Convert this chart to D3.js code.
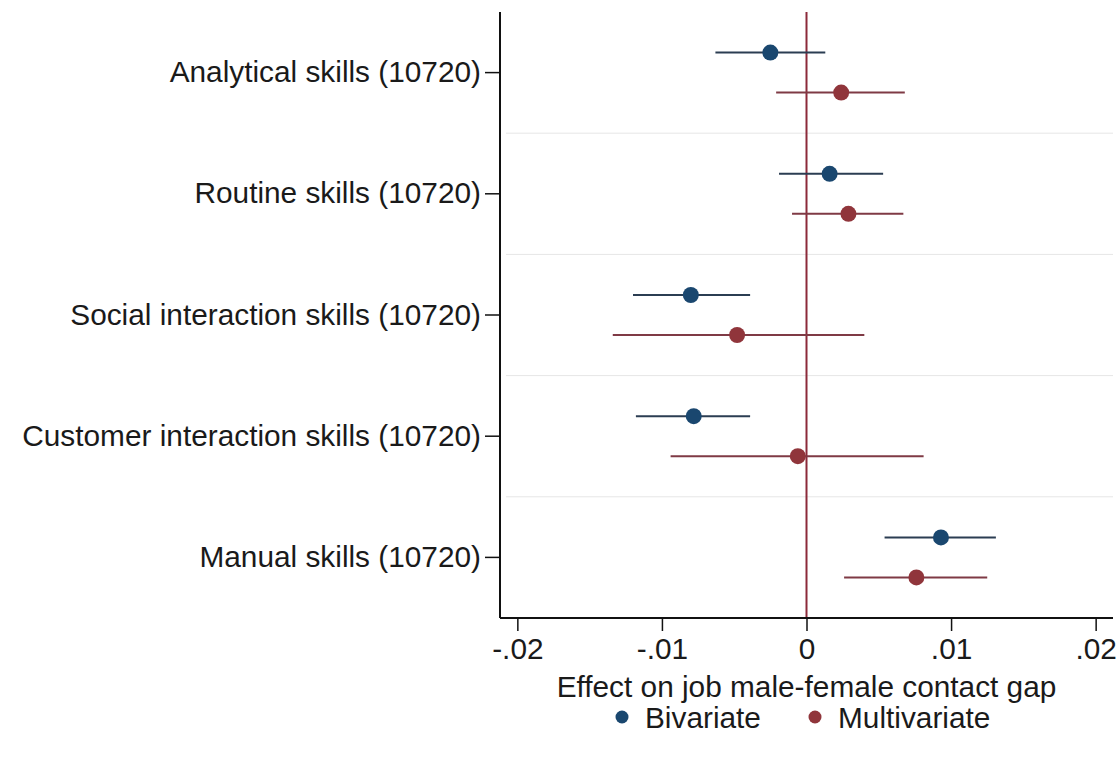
<!DOCTYPE html>
<html>
<head>
<meta charset="utf-8">
<script src="https://cdn.jsdelivr.net/npm/d3@7"></script>
<style>
  html, body { margin: 0; padding: 0; background: #ffffff; }
  svg { display: block; }
  text { font-family: "Liberation Sans", Arial, sans-serif; fill: #1a1a1a; }
</style>
</head>
<body>
<svg id="chart" width="1120" height="759"></svg>
<script>
// Skill measures (row labels, top to bottom)
const categories = [
  "Analytical skills (10720)",
  "Routine skills (10720)",
  "Social interaction skills (10720)",
  "Customer interaction skills (10720)",
  "Manual skills (10720)"
];

// Bivariate estimates with 95% confidence bounds
const bivEst = [-0.0025, 0.0016, -0.0080, -0.0078, 0.0093];
const bivLo  = [-0.0063, -0.0019, -0.0120, -0.0118, 0.0054];
const bivHi  = [ 0.0013, 0.0053, -0.0039, -0.0039, 0.0131];

// Multivariate estimates with 95% confidence bounds
const mulEst = [ 0.0024, 0.0029, -0.0048, -0.0006, 0.0076];
const mulLo  = [-0.0021, -0.0010, -0.0134, -0.0094, 0.0026];
const mulHi  = [ 0.0068, 0.0067,  0.0040,  0.0081, 0.0125];

// X axis ticks and their printed labels
const xTicks = [-0.02, -0.01, 0, 0.01, 0.02];
const xTickLabels = ["-.02", "-.01", "0", ".01", ".02"];

const seriesNames = ["Bivariate", "Multivariate"];
const seriesColors = ["#1a476f", "#90353b"];
const lineColors = ["#2b3d52", "#7f3a45"];

const FONT = 29.8;

const svg = d3.select("#chart");
const plot = { left: 500, right: 1113, top: 12, bottom: 618 };

const x = d3.scaleLinear().domain([-0.0212, 0.0212]).range([plot.left, plot.right]);
const y = d3.scaleBand().domain(categories).range([plot.top, plot.bottom]).padding(0);
const offset = 20;

// Light horizontal separators between rows
const bounds = categories.slice(1).map(c => y(c));
svg.append("g").selectAll("line").data(bounds).join("line")
  .attr("x1", plot.left + 6).attr("x2", plot.right)
  .attr("y1", d => d).attr("y2", d => d)
  .attr("stroke", "#e6e6e6").attr("stroke-width", 1);

// Reference line at zero
svg.append("line")
  .attr("x1", x(0)).attr("x2", x(0))
  .attr("y1", plot.top).attr("y2", plot.bottom)
  .attr("stroke", "#8c2a3a").attr("stroke-width", 2);

// Build the series rows
const series = [
  { name: seriesNames[0], est: bivEst, lo: bivLo, hi: bivHi, dy: -offset, color: seriesColors[0], line: lineColors[0] },
  { name: seriesNames[1], est: mulEst, lo: mulLo, hi: mulHi, dy: offset, color: seriesColors[1], line: lineColors[1] }
];

series.forEach(s => {
  const rows = categories.map((c, i) => ({ c, est: s.est[i], lo: s.lo[i], hi: s.hi[i] }));
  const g = svg.append("g");
  g.selectAll("line").data(rows).join("line")
    .attr("x1", d => x(d.lo)).attr("x2", d => x(d.hi))
    .attr("y1", d => y(d.c) + y.bandwidth() / 2 + s.dy)
    .attr("y2", d => y(d.c) + y.bandwidth() / 2 + s.dy)
    .attr("stroke", s.line).attr("stroke-width", 2);
  g.selectAll("circle").data(rows).join("circle")
    .attr("cx", d => x(d.est))
    .attr("cy", d => y(d.c) + y.bandwidth() / 2 + s.dy)
    .attr("r", 8)
    .attr("fill", s.color);
});

// Axes
const xAxis = d3.axisBottom(x)
  .tickValues(xTicks)
  .tickFormat((d, i) => xTickLabels[i])
  .tickSize(13).tickPadding(7);
const gx = svg.append("g").attr("transform", `translate(0,${plot.bottom})`).call(xAxis);
gx.select(".domain").attr("d", `M${plot.left},0H${plot.right}`).attr("stroke", "#111").attr("stroke-width", 2);
gx.selectAll(".tick line").attr("stroke", "#111").attr("stroke-width", 1.5);
gx.selectAll(".tick text").attr("font-size", FONT).attr("fill", "#1a1a1a")
  .attr("font-family", "'Liberation Sans', Arial, sans-serif");

const yAxis = d3.axisLeft(y).tickSize(15).tickPadding(4);
const gy = svg.append("g").attr("transform", `translate(${plot.left},0)`).call(yAxis);
gy.select(".domain").attr("d", `M0,${plot.top}V${plot.bottom}`).attr("stroke", "#111").attr("stroke-width", 2);
gy.selectAll(".tick line").attr("stroke", "#111").attr("stroke-width", 1.5);
gy.selectAll(".tick text").attr("font-size", FONT).attr("fill", "#1a1a1a")
  .attr("font-family", "'Liberation Sans', Arial, sans-serif");

// Axis title
svg.append("text")
  .attr("x", (x(-0.0212) + x(0.0212)) / 2).attr("y", 697)
  .attr("text-anchor", "middle").attr("font-size", FONT)
  .text("Effect on job male-female contact gap");

// Legend
const legend = svg.append("g");
const legendX = [622, 815];
series.forEach((s, i) => {
  legend.append("circle").attr("cx", legendX[i]).attr("cy", 717).attr("r", 6.5).attr("fill", s.color);
  legend.append("text").attr("x", legendX[i] + 23).attr("y", 728)
    .attr("font-size", FONT).text(s.name);
});
</script>
</body>
</html>
